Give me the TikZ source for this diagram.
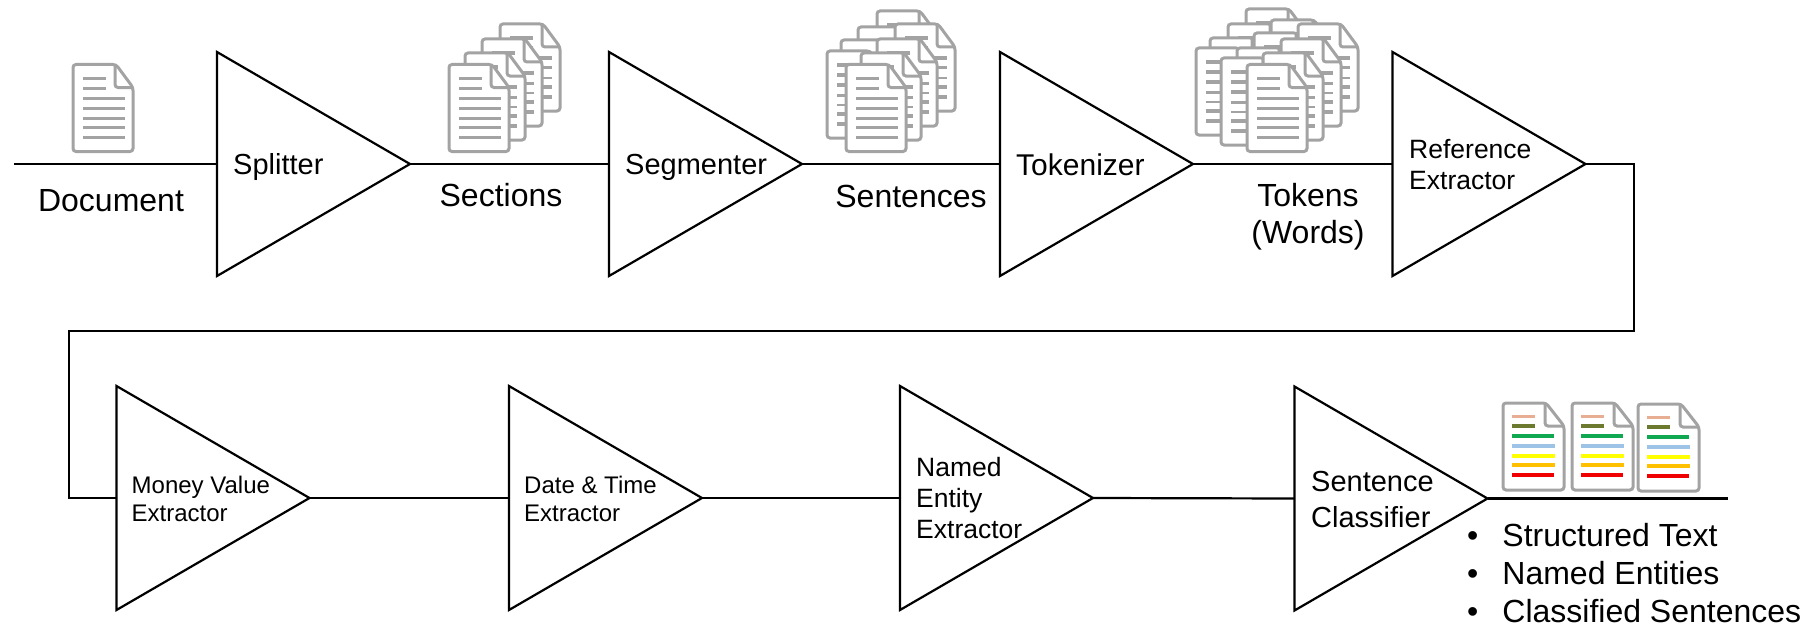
\documentclass[tikz,border=0pt]{standalone}
\usepackage{fontspec}
\setmainfont{Liberation Sans}
\usetikzlibrary{shapes.geometric}

\definecolor{docgray}{HTML}{A3A3A3}
\definecolor{lnsalmon}{HTML}{E8AE93}
\definecolor{lnolive}{HTML}{6B7A2E}
\definecolor{lngreen}{HTML}{10A850}
\definecolor{lnblue}{HTML}{9DC3E6}
\definecolor{lnyellow}{HTML}{FFFF00}
\definecolor{lnorange}{HTML}{FFC000}
\definecolor{lnred}{HTML}{F00000}

\tikzset{
    stage/.style={draw=black, line width=2.2pt, isosceles triangle, isosceles triangle stretches,
        shape border rotate=0, minimum height=193pt, minimum width=224pt, inner sep=0pt, outer sep=0pt, anchor=lower side},
    wire/.style={line width=2.2pt, black},
    bigtext/.style={font=\fontsize{32}{37}\selectfont, inner sep=0pt, align=center},
    midtext/.style={font=\fontsize{29}{36}\selectfont, inner sep=0pt, anchor=west, align=left},
    smalltext/.style={font=\fontsize{24}{28}\selectfont, inner sep=0pt, anchor=west, align=left},
    reftext/.style={font=\fontsize{26.5}{31}\selectfont, inner sep=0pt, anchor=west, align=left},
    docoutline/.style={draw=docgray, fill=white, line width=3pt, rounded corners=3pt},
    docfold/.style={draw=docgray, line width=3pt, rounded corners=3pt},
    docline/.style={docgray, line width=3.4pt},
    docicon/.pic={
        \path[docoutline] (0,0) -- (43,0) -- (60,23) -- (60,87) -- (0,87) -- cycle;
        \path[docfold] (42,0) -- (42,23) -- (60,23);
        \draw[docline] (10,14) -- (33,14);
        \draw[docline] (10,24) -- (33,24);
        \draw[docline, line width=3.8pt] (10,34) -- (52,34);
        \draw[docline, line width=3pt] (10,44) -- (52,44);
        \draw[docline, line width=2.4pt] (10,54) -- (52,54);
        \draw[docline] (10,63) -- (52,63);
        \draw[docline, line width=3.8pt] (10,73) -- (52,73);
    },
    colordoc/.pic={
        \path[docoutline] (0,0) -- (43,0) -- (61,23) -- (61,87) -- (0,87) -- cycle;
        \path[docfold] (42,0) -- (42,23) -- (61,23);
        \draw[lnsalmon, line width=3pt] (9,13) -- (32,13);
        \draw[lnolive, line width=3.4pt] (9,23) -- (32,23);
        \draw[lngreen, line width=3.4pt] (9,33) -- (51,33);
        \draw[lnblue, line width=3.4pt] (9,43) -- (52,43);
        \draw[lnyellow, line width=4pt] (9,53) -- (52,53);
        \draw[lnorange, line width=3.4pt] (9,62) -- (52,62);
        \draw[lnred, line width=3.4pt] (9,72) -- (51,72);
    },
}

\begin{document}
\begin{tikzpicture}[x=1pt, y=-1pt]
    \useasboundingbox (0,0) rectangle (1809,626);

    % top row stages
    \node[stage] (splitter) at (217,164) {};
    \node[stage] (segmenter) at (609,164) {};
    \node[stage] (tokenizer) at (1000,164) {};
    \node[stage] (refext) at (1392.5,164) {};

    % bottom row stages
    \node[stage] (money) at (116.5,498) {};
    \node[stage] (datetime) at (509,498) {};
    \node[stage] (entity) at (900,498) {};
    \node[stage] (classifier) at (1294.5,498.5) {};

    % free ends and bends
    \coordinate (docin) at (14,164);
    \coordinate (bendtop) at (1634,331);
    \coordinate (bendleft) at (69,498);
    \coordinate (docout) at (1728,498.5);

    \draw[wire] (docin) -- (splitter.lower side);
    \draw[wire] (splitter.apex) -- (segmenter.lower side);
    \draw[wire] (segmenter.apex) -- (tokenizer.lower side);
    \draw[wire] (tokenizer.apex) -- (refext.lower side);
    \draw[wire] (refext.apex) -| (bendtop) -| (bendleft) -- (money.lower side);
    \draw[wire] (money.apex) -- (datetime.lower side);
    \draw[wire] (datetime.apex) -- (entity.lower side);
    \draw[wire] (entity.apex) -- (classifier.lower side);
    \draw[wire] (classifier.apex) -- (docout);

    % stage labels
    \node[midtext] (splitterlbl) at (233,167) {Splitter};
    \node[midtext] (segmenterlbl) at (625,167) {Segmenter};
    \node[midtext, font=\fontsize{30}{36}\selectfont] (tokenizerlbl) at (1016,165) {Tokenizer};
    \node[reftext] (refextlbl) at (1409,165) {Reference\\Extractor};
    \node[smalltext] (moneylbl) at (131.5,499) {Money Value\\Extractor};
    \node[smalltext] (datetimelbl) at (524,499) {Date \& Time\\Extractor};
    \node[reftext] (entitylbl) at (916,498) {Named\\Entity\\Extractor};
    \node[midtext] (classifierlbl) at (1311,500) {Sentence\\Classifier};

    % data labels
    \node[bigtext] (doclbl) at (111,201) {Document};
    \node[bigtext] (sectionlbl) at (501,195) {Sections};
    \node[bigtext] (sentencelbl) at (911,196) {Sentences};
    \node[bigtext] (tokenlbl) at (1308,217) {Tokens\\(Words)};
    \node[font=\fontsize{32}{38}\selectfont, inner sep=0pt, anchor=west, align=left] (outlbl) at (1467,573)
        {\textbullet\hspace{24pt}Structured Text\\\textbullet\hspace{24pt}Named Entities\\\textbullet\hspace{24pt}Classified Sentences};

    % document
    \pic at (73,64.5) {docicon};

    % sections
    \pic at (500,24) {docicon};
    \pic at (482,39) {docicon};
    \pic at (465,53) {docicon};
    \pic at (449,64.5) {docicon};

    % sentences
    \pic at (877,11) {docicon};
    \pic at (858,27) {docicon};
    \pic at (841,40) {docicon};
    \pic at (827,51) {docicon};
    \pic at (895,24) {docicon};
    \pic at (877,39) {docicon};
    \pic at (861,53) {docicon};
    \pic at (846,64.5) {docicon};

    % tokens
    \pic at (1246,9) {docicon};
    \pic at (1228,24) {docicon};
    \pic at (1210,38) {docicon};
    \pic at (1196,48) {docicon};
    \pic at (1271,20) {docicon};
    \pic at (1254,33) {docicon};
    \pic at (1237,48) {docicon};
    \pic at (1221,58) {docicon};
    \pic at (1298,24) {docicon};
    \pic at (1281,39) {docicon};
    \pic at (1263,53) {docicon};
    \pic at (1247,64.5) {docicon};

    % classified output
    \pic at (1503,403) {colordoc};
    \pic at (1572,403) {colordoc};
    \pic at (1638,404) {colordoc};
\end{tikzpicture}
\end{document}
